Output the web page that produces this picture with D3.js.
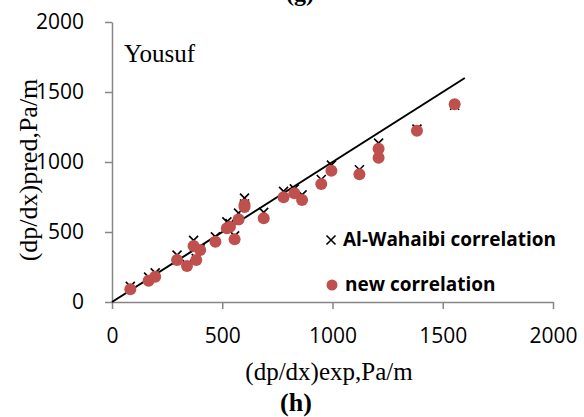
<!DOCTYPE html>
<html>
<head>
<meta charset="utf-8">
<script src="https://cdn.jsdelivr.net/npm/d3@7"></script>
<style>
  body { margin: 0; background: #fff; }
  svg { display: block; }
</style>
</head>
<body>
<svg></svg>
<script>
const width = 584;
const height = 417;
const margin = { top: 22, right: 31, bottom: 115, left: 112 };

// data
const expValues = [83, 166, 196, 295, 340, 370, 382, 400, 469, 521, 535, 556, 574, 601, 601,
  688, 778, 827, 862, 949, 995, 1122, 1209, 1209, 1383, 1554];
const newCorr = [91, 152, 181, 300, 257, 400, 300, 371, 431, 526, 538, 448, 590, 678, 695,
  598, 748, 776, 729, 843, 938, 912, 1030, 1095, 1224, 1412];
const alWahaibi = [112, 178, 208, 335, 268, 440, 310, 380, 465, 572, 560, 472, 635, 700, 742,
  640, 790, 808, 765, 875, 978, 945, 1060, 1135, 1235, 1405];
const xTicks = [0, 500, 1000, 1500, 2000];
const yTicks = [0, 500, 1000, 1500, 2000];
const lineEnd = 1600;

const red = "#C0504D";
const axisGrey = "#868686";

const svg = d3.select("svg").attr("width", width).attr("height", height);

const x = d3.scaleLinear().domain([0, 2000]).range([margin.left, width - margin.right]);
const y = d3.scaleLinear().domain([0, 2000]).range([height - margin.bottom, margin.top]);

// axes
const xAxis = svg.append("g")
  .attr("transform", `translate(0,${y(0)})`)
  .call(d3.axisBottom(x).tickValues(xTicks).tickFormat(d3.format("d"))
    .tickSize(7).tickSizeOuter(0).tickPadding(19));
const yAxis = svg.append("g")
  .attr("transform", `translate(${x(0)},0)`)
  .call(d3.axisLeft(y).tickValues(yTicks).tickFormat(d3.format("d"))
    .tickSize(7).tickSizeOuter(0).tickPadding(21));

[xAxis, yAxis].forEach((g) => {
  g.select(".domain").attr("stroke", axisGrey).attr("stroke-width", 1.5);
  g.selectAll(".tick line").attr("stroke", axisGrey).attr("stroke-width", 1.5);
  g.selectAll(".tick text")
    .attr("fill", "#000")
    .style("font-family", "'Open Sans', sans-serif")
    .style("font-size", "21px");
});
xAxis.selectAll(".tick text").attr("dy", "0.71em");

// 1:1 line
svg.append("line")
  .attr("x1", x(0)).attr("y1", y(0))
  .attr("x2", x(lineEnd)).attr("y2", y(lineEnd))
  .attr("stroke", "#000")
  .attr("stroke-width", 2);

const points = expValues.map((d, i) => ({ exp: d, neu: newCorr[i], aw: alWahaibi[i] }));

// Al-Wahaibi crosses
const s = 4.5;
const crossPath = (cx, cy) =>
  `M${cx - s},${cy - s}L${cx + s},${cy + s}M${cx - s},${cy + s}L${cx + s},${cy - s}`;
svg.append("g")
  .selectAll("path")
  .data(points)
  .join("path")
  .attr("d", (d) => crossPath(x(d.exp), y(d.aw)))
  .attr("stroke", "#000")
  .attr("stroke-width", 1.6)
  .attr("fill", "none");

// new correlation circles
svg.append("g")
  .selectAll("circle")
  .data(points)
  .join("circle")
  .attr("cx", (d) => x(d.exp))
  .attr("cy", (d) => y(d.neu))
  .attr("r", 6)
  .attr("fill", red);

// texts
const serif = "'Liberation Serif', 'Times New Roman', serif";
svg.append("text")
  .attr("x", 124).attr("y", 62)
  .style("font-family", serif).style("font-size", "25px")
  .text("Yousuf");

svg.append("text")
  .attr("x", 329).attr("y", 380)
  .attr("text-anchor", "middle")
  .style("font-family", serif).style("font-size", "25px")
  .text("(dp/dx)exp,Pa/m");

svg.append("text")
  .attr("transform", "translate(37,170) rotate(-90)")
  .attr("text-anchor", "middle")
  .style("font-family", serif).style("font-size", "26px")
  .text("(dp/dx)pred,Pa/m");

svg.append("text")
  .attr("x", 296).attr("y", 411)
  .attr("text-anchor", "middle")
  .style("font-family", serif).style("font-size", "26px").style("font-weight", "bold")
  .text("(h)");

svg.append("text")
  .attr("x", 300).attr("y", 1)
  .attr("text-anchor", "middle")
  .style("font-family", serif).style("font-size", "24px").style("font-weight", "bold")
  .text("(g)");

// legend
const legend = svg.append("g");
legend.append("path")
  .attr("d", crossPath(331, 240))
  .attr("stroke", "#000").attr("stroke-width", 1.6);
legend.append("text")
  .attr("x", 343).attr("y", 246)
  .style("font-family", "'Open Sans', sans-serif").style("font-size", "19px").style("font-weight", "bold")
  .text("Al-Wahaibi correlation");
legend.append("circle")
  .attr("cx", 332).attr("cy", 285).attr("r", 5.5).attr("fill", red);
legend.append("text")
  .attr("x", 345).attr("y", 291)
  .style("font-family", "'Open Sans', sans-serif").style("font-size", "19px").style("font-weight", "bold")
  .text("new correlation");
</script>
</body>
</html>
